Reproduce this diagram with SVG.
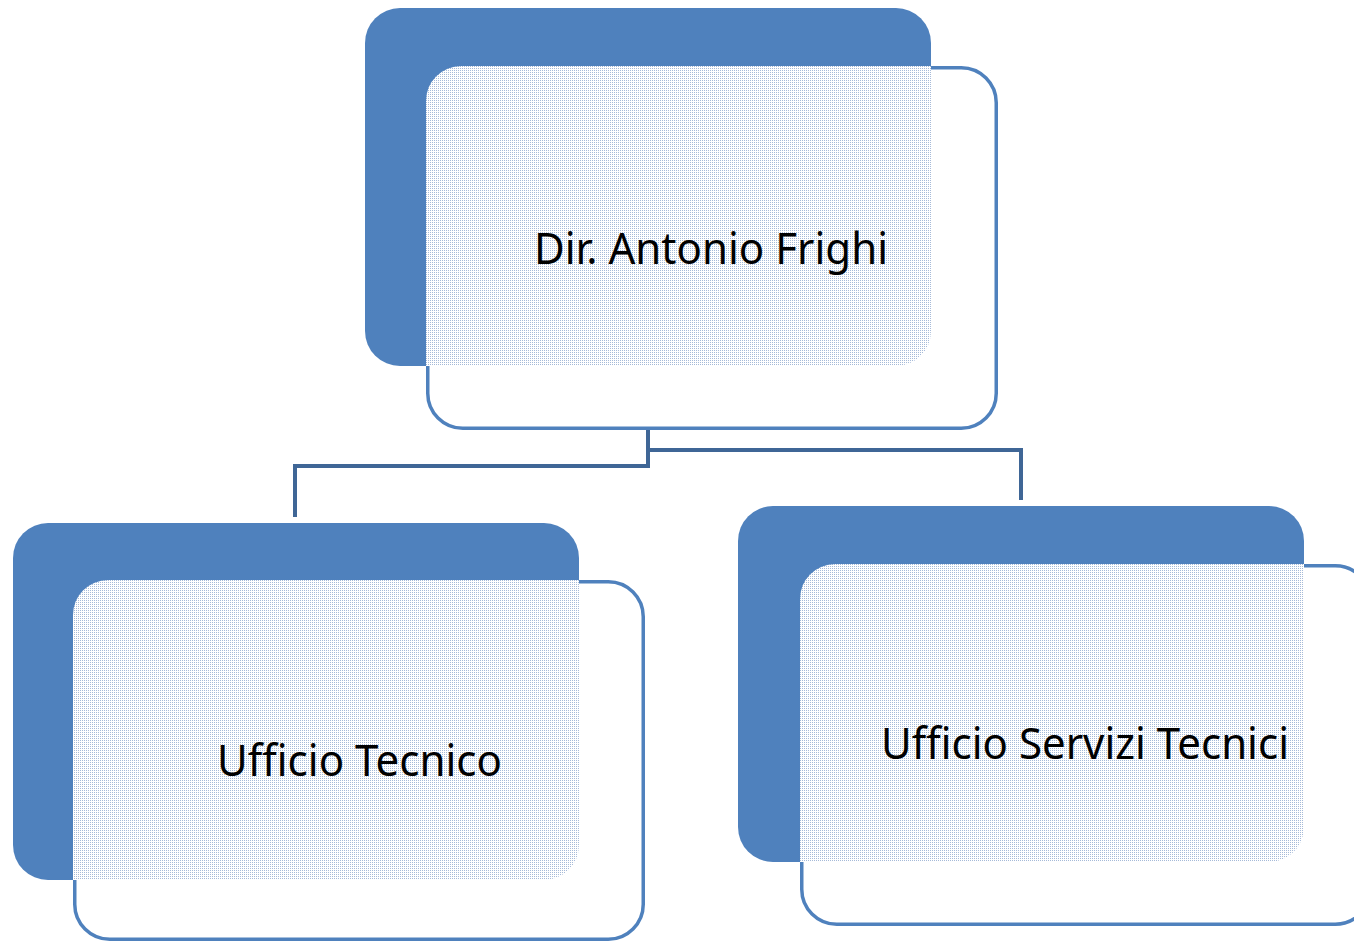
<svg xmlns="http://www.w3.org/2000/svg" width="1354" height="943" viewBox="0 0 1354 943">
  <defs>
    <pattern id="dots" width="2" height="2" patternUnits="userSpaceOnUse">
      <rect width="2" height="2" fill="#ffffff"/>
      <rect width="1" height="1" fill="#a6bad8"/>
    </pattern>
    <style>
      .back { fill: #4f81bd; }
      .front { fill: #ffffff; stroke: #4f81bd; stroke-width: 3.5; }
      .overlap { fill: url(#dots); }
      .label { font-family: "Noto Sans", "Open Sans", sans-serif; font-size: 43px; fill: #000000; }
      .conn { fill: none; stroke: #3f6696; stroke-width: 4; stroke-linejoin: miter; }
      .ghost { stroke: #b4c8e6; stroke-width: 1.5; stroke-dasharray: 1.5 1.5; }
    </style>
  </defs>

  <rect width="1354" height="943" fill="#ffffff"/>

  <g id="connectors">
    <line class="ghost" x1="648" y1="368" x2="648" y2="428"/>
    <polyline class="conn" points="648,430 648,466 295,466 295,517"/>
    <polyline class="conn" points="648,450 1021,450 1021,500"/>
  </g>

  <g id="node-director">
    <rect class="back" x="365" y="8" width="566" height="358" rx="35" ry="35"/>
    <rect class="front" x="427.75" y="67.75" width="568.5" height="360.5" rx="35" ry="35"/>
    <path class="overlap" d="M426,101 A35,35 0 0 1 461,66 H931 V331 A35,35 0 0 1 896,366 H426 Z"/>
    <text class="label" x="534" y="264" textLength="354" lengthAdjust="spacingAndGlyphs">Dir. Antonio Frighi</text>
  </g>

  <g id="node-ufficio-tecnico">
    <rect class="back" x="13" y="523" width="566" height="357" rx="35" ry="35"/>
    <rect class="front" x="74.75" y="581.75" width="568.5" height="357.5" rx="35" ry="35"/>
    <path class="overlap" d="M73,615 A35,35 0 0 1 108,580 H579 V845 A35,35 0 0 1 544,880 H73 Z"/>
    <text class="label" x="217" y="776" textLength="285" lengthAdjust="spacingAndGlyphs">Ufficio Tecnico</text>
  </g>

  <g id="node-servizi-tecnici">
    <rect class="back" x="738" y="506" width="566" height="356" rx="35" ry="35"/>
    <rect class="front" x="801.75" y="565.75" width="568.5" height="358.5" rx="35" ry="35"/>
    <path class="overlap" d="M800,599 A35,35 0 0 1 835,564 H1304 V827 A35,35 0 0 1 1269,862 H800 Z"/>
    <text class="label" x="881" y="759" textLength="408" lengthAdjust="spacingAndGlyphs">Ufficio Servizi Tecnici</text>
  </g>
</svg>
